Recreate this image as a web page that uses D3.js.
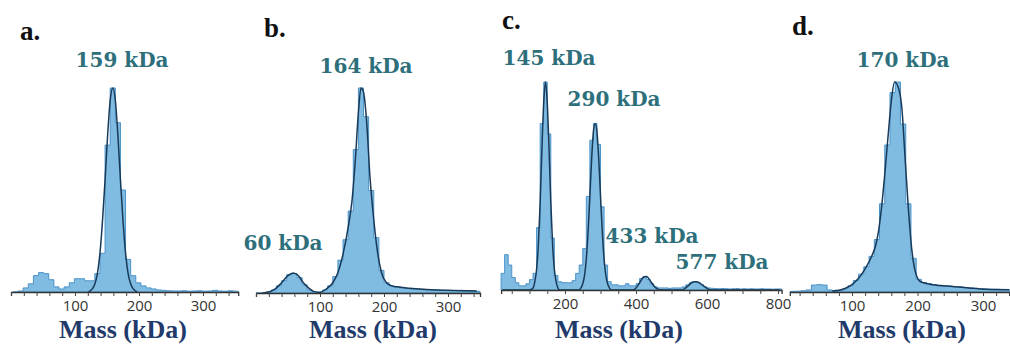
<!DOCTYPE html>
<html>
<head>
<meta charset="utf-8">
<script src="https://cdn.jsdelivr.net/npm/d3@7"></script>
<style>
  html, body { margin: 0; padding: 0; background: #fff; }
  svg { display: block; }
</style>
</head>
<body>
<svg id="chart" width="1010" height="344"></svg>
<script>
// histogram bin counts, normalised so the tallest bin of each panel is 100
const binWidthA = 8, binStartA = 7;
const histA = [0, 0.5, 2, 4, 8, 9.5, 9, 6, 2.5, 1.5, 2.5, 4.5, 6.5, 6.5, 5.5, 5.5, 9, 19, 72, 100,
  83, 50, 16, 8, 4.5, 3, 2, 1.5, 1, 0.8, 0.6, 0.5, 0.5, 0.6, 0.4, 0.5, 0.6, 0.4, 0.5, 0.8, 0.5, 0.4, 0.6, 0.4];
const fitA = [[121, 0], [127, 1.5], [131, 3.9], [135, 9], [139, 19], [143, 35], [147, 55], [151, 77], [155, 94],
  [159, 100], [163, 94], [167, 77], [171, 55], [175, 35], [179, 19], [183, 9], [187, 3.9], [191, 1.5], [197, 0]];

const binWidthB = 8, binStartB = 4;
const histB = [0, 0, 0.5, 1.5, 3.5, 6, 9, 9.5, 7.5, 4, 1.5, 0.5, 0.5, 1.5, 3.5, 8, 16, 26, 40, 70, 100,
  86, 50, 27, 11, 5, 3.5, 3, 2.5, 2.2, 2, 2, 1.8, 1.6, 1.5, 1.4, 1.3, 1.2, 1.2, 1.1, 1, 1, 1, 0.8];
const fitB = [[10, 0], [20, 0.5], [30, 2], [40, 5], [50, 8.5], [58, 9.8], [66, 8.5], [74, 5], [82, 2.5], [90, 0.8],
  [100, 0.3], [110, 2], [120, 5], [128, 10], [136, 19], [144, 32], [150, 45], [155, 64], [160, 88], [164, 100],
  [168, 98], [173, 83], [178, 57], [183, 39], [189, 22], [196, 10], [204, 5], [212, 3.5], [220, 3], [240, 2.3],
  [260, 1.8], [300, 1.3], [345, 1]];

const binWidthC = 10, binStartC = 25;
const histC = [8, 17, 12, 6, 3.5, 2, 2, 3, 5, 8, 30, 80, 100, 75, 25, 7, 4, 3.5, 3.5, 3.5, 4.5, 8, 12, 20, 45,
  72, 80, 70, 40, 12, 4, 2.5, 2.5, 2, 2, 3, 2, 2, 3, 5.5, 6.5, 5, 3, 1.5, 1, 1, 1, 0.8, 1, 1, 1, 1.5, 2.5, 3.5,
  4, 3.5, 2.5, 1.5, 1, 0.8, 0.7, 0.6, 0.7, 0.6, 0.5, 0.6, 0.7, 0.5, 0.6, 0.5, 0.6, 0.5, 0.5, 0.6, 0.5, 0.5, 0.4, 0.5, 0.5];
const fitC = [[25, 0], [100, 0], [110, 1], [115, 4], [120, 10], [125, 22], [130, 42], [135, 68], [140, 90], [145, 100],
  [150, 90], [155, 68], [160, 42], [165, 22], [170, 10], [175, 4], [180, 1], [185, 0], [240, 0], [245, 1], [250, 3],
  [255, 7], [260, 15], [265, 28], [270, 45], [275, 63], [280, 76], [285, 80], [290, 76], [295, 63], [300, 45],
  [305, 28], [310, 15], [315, 7], [320, 3], [325, 1], [330, 0], [390, 0], [400, 1], [410, 3.5], [420, 6], [430, 6.5],
  [440, 4.5], [450, 2], [460, 0.5], [470, 0], [530, 0], [540, 1], [550, 2.5], [560, 3.8], [570, 4], [580, 3.3],
  [590, 2], [600, 0.8], [610, 0], [805, 0]];

const binWidthD = 8, binStartD = 10;
const histD = [0.3, 0.4, 0.6, 1, 3.3, 3.5, 3.3, 1, 0.5, 0.6, 1.5, 3, 5.5, 8.5, 12, 17, 25, 42, 70, 95, 100,
  80, 42, 16, 6, 4.5, 4, 3.5, 3.2, 3, 2.8, 2.6, 2.4, 2.1, 1.9, 1.7, 1.5, 1.4, 1.3, 1.3, 1.2, 1.2];
const fitD = [[70, 0.5], [80, 0.8], [90, 1.8], [100, 3.5], [110, 6.5], [120, 11], [130, 17], [136, 22], [140, 28],
  [145, 40], [150, 56], [155, 74], [160, 91], [165, 100], [170, 98], [176, 88], [181, 64], [186, 40], [191, 21],
  [196, 10.5], [204, 5], [219, 3.7], [245, 2.8], [275, 2], [305, 1.3], [340, 1.1]];

const panelLetters = ["a.", "b.", "c.", "d."];
const axisTitle = "Mass (kDa)";

const svg = d3.select("#chart");

const panels = [
  { letter: panelLetters[0], hist: histA, w: binWidthA, start: binStartA, fit: fitA,
    xDom: [0, 355], xRange: [11, 238.2], y0: 292, yTop: 88, tickStep: 20, labelStep: 100,
    letterPos: [20, 40], titleX: 123,
    labels: [{ t: "159 kDa", x: 122, y: 67 }] },
  { letter: panelLetters[1], hist: histB, w: binWidthB, start: binStartB, fit: fitB,
    xDom: [0, 350], xRange: [256, 480], y0: 293, yTop: 88, tickStep: 20, labelStep: 100,
    letterPos: [264, 37], titleX: 373,
    labels: [{ t: "164 kDa", x: 366, y: 73 }, { t: "60 kDa", x: 283, y: 250 }] },
  { letter: panelLetters[2], hist: histC, w: binWidthC, start: binStartC, fit: fitC,
    xDom: [20, 810], xRange: [501.1, 781.6], y0: 290, yTop: 82, tickStep: 50, labelStep: 200,
    letterPos: [502, 29], titleX: 619,
    labels: [{ t: "145 kDa", x: 549, y: 65 }, { t: "290 kDa", x: 614, y: 106 },
             { t: "433 kDa", x: 652, y: 243 }, { t: "577 kDa", x: 722, y: 269 }] },
  { letter: panelLetters[3], hist: histD, w: binWidthD, start: binStartD, fit: fitD,
    xDom: [5, 340], xRange: [789.8, 1009.2], y0: 292, yTop: 82, tickStep: 20, labelStep: 100,
    letterPos: [792, 35], titleX: 902,
    labels: [{ t: "170 kDa", x: 903, y: 67 }] }
];

panels.forEach(p => {
  const x = d3.scaleLinear().domain(p.xDom).range(p.xRange);
  const y = d3.scaleLinear().domain([0, 100]).range([p.y0, p.yTop]);
  const g = svg.append("g");

  // bin edges -> step outline
  const pts = p.hist.map((v, i) => [p.start + i * p.w - p.w / 2, v]);
  pts.push([p.start + (p.hist.length - 1) * p.w + p.w / 2, p.hist[p.hist.length - 1]]);
  const clipped = pts.map(d => [Math.max(p.xDom[0], Math.min(p.xDom[1], d[0])), d[1]]);

  g.append("path")
    .datum(clipped)
    .attr("fill", "#80bbe2")
    .attr("stroke", "#4b93c9")
    .attr("stroke-width", 1)
    .attr("d", d3.area().curve(d3.curveStepAfter)
      .x(d => x(d[0])).y0(y(0)).y1(d => y(d[1])));

  g.append("path")
    .datum(p.fit)
    .attr("fill", "none")
    .attr("stroke", "#183a58")
    .attr("stroke-width", 1.5)
    .attr("d", d3.line().curve(d3.curveMonotoneX).x(d => x(d[0])).y(d => y(d[1])));

  const ticks = d3.range(Math.ceil(p.xDom[0] / p.tickStep) * p.tickStep, p.xDom[1] + 0.1, p.tickStep);
  const ax = g.append("g")
    .attr("transform", `translate(0,${p.y0})`)
    .call(d3.axisBottom(x).tickValues(ticks).tickSize(4).tickPadding(4)
      .tickFormat(d => (d > 0 && d % p.labelStep === 0) ? d : ""));
  ax.select(".domain").attr("stroke", "#333").attr("stroke-width", 1.3);
  ax.selectAll(".tick line").attr("stroke", "#444");
  ax.selectAll("text")
    .attr("fill", "#333")
    .style("font-family", "'Open Sans', sans-serif")
    .style("font-size", "15px");

  g.append("text")
    .attr("x", p.letterPos[0]).attr("y", p.letterPos[1])
    .style("font-family", "'Liberation Serif', serif")
    .style("font-weight", "bold")
    .style("font-size", "27px")
    .attr("fill", "#111")
    .text(p.letter);

  g.append("text")
    .attr("x", p.titleX).attr("y", 338)
    .attr("text-anchor", "middle")
    .style("font-family", "'Liberation Serif', serif")
    .style("font-weight", "bold")
    .style("font-size", "26px")
    .attr("fill", "#1f3a6b")
    .text(axisTitle);

  p.labels.forEach(l => {
    g.append("text")
      .attr("x", l.x).attr("y", l.y)
      .attr("text-anchor", "middle")
      .style("font-family", "'DejaVu Serif', serif")
      .style("font-weight", "bold")
      .style("font-size", "20px")
      .attr("fill", "#2d6f7b")
      .text(l.t);
  });
});
</script>
</body>
</html>
